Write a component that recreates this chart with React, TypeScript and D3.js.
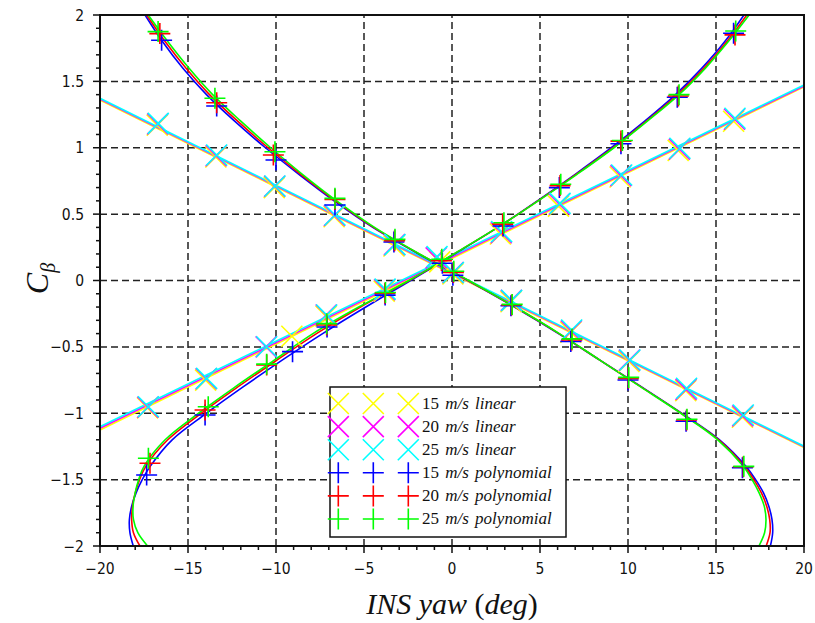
import React from 'react';
import * as d3 from 'd3';

// axes
const xMajorTicks = [-20, -15, -10, -5, 0, 5, 10, 15, 20];
const yMajorTicks = [-2, -1.5, -1, -0.5, 0, 0.5, 1, 1.5, 2];

const seriesNames = [
  '15 m/s linear',
  '20 m/s linear',
  '25 m/s linear',
  '15 m/s polynomial',
  '20 m/s polynomial',
  '25 m/s polynomial',
];
const seriesColors = ['#ffff00', '#ff00ff', '#00ffff', '#0000ff', '#ff0000', '#00ff00'];
const seriesMarkers = ['x', 'x', 'x', '+', '+', '+'];

// linear fits, [x, y] end points
const yellowLine = [[[-20, 1.358], [20, -1.258]], [[-20, -1.126], [20, 1.458]]];
const magentaLine = [[[-20, 1.366], [20, -1.253]], [[-20, -1.113], [20, 1.465]]];
const cyanLine = [[[-20, 1.373], [20, -1.248]], [[-20, -1.101], [20, 1.472]]];

// polynomial fits, [x, y] along each branch
const blueDec = [[18.09, -2], [18.22, -1.9], [18.18, -1.8], [18.0, -1.7], [17.7, -1.6], [17.25, -1.5], [16.7, -1.4], [15.2, -1.2], [13.05, -1.0], [10.75, -0.8], [8.4, -0.6], [6.05, -0.4], [3.55, -0.2], [0.9, 0], [-1.9, 0.2], [-4.5, 0.4], [-6.7, 0.6], [-8.7, 0.8], [-10.6, 1.0], [-12.35, 1.2], [-13.95, 1.4], [-15.3, 1.6], [-16.45, 1.8], [-17.44, 2]];
const redDec = [[17.85, -2], [18.07, -1.9], [18.05, -1.8], [17.88, -1.7], [17.58, -1.6], [17.15, -1.5], [16.62, -1.4], [15.15, -1.2], [13.02, -1.0], [10.72, -0.8], [8.4, -0.6], [6.08, -0.4], [3.58, -0.2], [0.92, 0], [-1.87, 0.2], [-4.45, 0.4], [-6.62, 0.6], [-8.6, 0.8], [-10.45, 1.0], [-12.18, 1.2], [-13.78, 1.4], [-15.12, 1.6], [-16.3, 1.8], [-17.35, 2]];
const greenDec = [[17.44, -2], [17.76, -1.9], [17.84, -1.8], [17.74, -1.7], [17.45, -1.6], [17.05, -1.5], [16.55, -1.4], [15.1, -1.2], [13.0, -1.0], [10.7, -0.8], [8.4, -0.6], [6.1, -0.4], [3.6, -0.2], [0.95, 0], [-1.85, 0.2], [-4.4, 0.4], [-6.55, 0.6], [-8.5, 0.8], [-10.3, 1.0], [-12.0, 1.2], [-13.6, 1.4], [-14.95, 1.6], [-16.15, 1.8], [-17.26, 2]];
const blueInc = [[-18.11, -2], [-18.3, -1.9], [-18.33, -1.8], [-18.2, -1.7], [-17.95, -1.6], [-17.6, -1.5], [-17.15, -1.4], [-15.9, -1.2], [-13.95, -1.0], [-11.85, -0.8], [-9.65, -0.6], [-7.35, -0.4], [-4.9, -0.2], [-2.35, 0], [0.15, 0.2], [2.6, 0.4], [4.85, 0.6], [7.0, 0.8], [9.05, 1.0], [10.95, 1.2], [12.7, 1.4], [14.2, 1.6], [15.5, 1.8], [16.59, 2]];
const redInc = [[-17.73, -2], [-18.1, -1.9], [-18.2, -1.8], [-18.15, -1.7], [-18.0, -1.6], [-17.75, -1.5], [-17.4, -1.4], [-16.15, -1.2], [-14.25, -1.0], [-12.15, -0.8], [-9.95, -0.6], [-7.7, -0.4], [-5.2, -0.2], [-2.42, 0], [0.12, 0.2], [2.6, 0.4], [4.88, 0.6], [7.05, 0.8], [9.15, 1.0], [11.05, 1.2], [12.82, 1.4], [14.32, 1.6], [15.62, 1.8], [16.75, 2]];
const greenInc = [[-17.3, -2], [-17.85, -1.9], [-18.1, -1.8], [-18.12, -1.7], [-18.0, -1.6], [-17.8, -1.5], [-17.5, -1.4], [-16.3, -1.2], [-14.4, -1.0], [-12.3, -0.8], [-10.1, -0.6], [-7.9, -0.4], [-5.3, -0.2], [-2.45, 0], [0.1, 0.2], [2.6, 0.4], [4.9, 0.6], [7.1, 0.8], [9.2, 1.0], [11.1, 1.2], [12.9, 1.4], [14.4, 1.6], [15.7, 1.8], [16.88, 2]];

// measured points, [x, y]
const yellowPts = [[-16.75, 1.17], [-13.42, 0.93], [-10.1, 0.7], [-6.7, 0.48], [-3.3, 0.26], [0.05, 0.05], [3.35, -0.16], [6.75, -0.39], [10.05, -0.61], [13.28, -0.83], [16.5, -1.03],
  [-17.3, -0.96], [-14.0, -0.75], [-9.1, -0.42], [-7.15, -0.27], [-3.85, -0.08], [-0.7, 0.14], [2.75, 0.35], [6.05, 0.56], [9.55, 0.78], [12.85, 0.98], [16.0, 1.2]];
const magentaPts = [[-16.72, 1.18], [-13.4, 0.94], [-10.08, 0.71], [-6.68, 0.49], [-3.27, 0.27], [0.06, 0.06], [3.37, -0.15], [6.78, -0.38], [10.08, -0.6], [13.3, -0.82], [16.52, -1.02],
  [-17.28, -0.955], [-13.97, -0.74], [-10.56, -0.5], [-7.15, -0.26], [-3.83, -0.07], [-0.9, 0.17], [2.8, 0.36], [6.1, 0.575], [9.6, 0.79], [12.92, 0.99], [16.05, 1.215]];
const cyanPts = [[-16.69, 1.184], [-13.37, 0.945], [-10.06, 0.712], [-6.65, 0.493], [-3.24, 0.27], [0.08, 0.06], [3.39, -0.15], [6.8, -0.373], [10.11, -0.599], [13.33, -0.812], [16.55, -1.013],
  [-17.25, -0.951], [-13.94, -0.737], [-10.53, -0.499], [-7.12, -0.26], [-3.8, -0.065], [-0.85, 0.18], [2.82, 0.368], [6.14, 0.581], [9.64, 0.795], [12.95, 0.996], [16.08, 1.222]];
const bluePts = [[-16.5, 1.81], [-13.37, 1.314], [-10.0, 0.908], [-6.65, 0.569], [-3.3, 0.29], [0.05, 0.04], [3.35, -0.19], [6.75, -0.46], [10.0, -0.75], [13.3, -1.06], [16.5, -1.41],
  [-17.35, -1.465], [-14.03, -1.013], [-9.06, -0.536], [-7.1, -0.35], [-3.8, -0.11], [-0.55, 0.13], [2.9, 0.41], [6.1, 0.7], [9.6, 1.03], [12.8, 1.38], [16.0, 1.862]];
const redPts = [[-16.6, 1.86], [-13.37, 1.339], [-10.15, 0.945], [-6.65, 0.61], [-3.26, 0.3], [0.08, 0.06], [3.39, -0.185], [6.8, -0.448], [10.02, -0.737], [13.33, -1.051], [16.55, -1.403],
  [-17.16, -1.377], [-14.03, -0.976], [-10.53, -0.637], [-7.12, -0.335], [-3.81, -0.096], [-0.6, 0.15], [2.88, 0.425], [6.14, 0.715], [9.6, 1.05], [12.86, 1.39], [16.08, 1.85]];
const greenPts = [[-16.7, 1.875], [-13.47, 1.373], [-10.06, 0.97], [-6.65, 0.619], [-3.24, 0.31], [0.1, 0.07], [3.42, -0.18], [6.82, -0.44], [10.04, -0.73], [13.35, -1.045], [16.58, -1.4],
  [-17.25, -1.339], [-13.85, -0.951], [-10.53, -0.63], [-7.12, -0.325], [-3.78, -0.09], [-0.58, 0.16], [2.95, 0.435], [6.18, 0.725], [9.68, 1.055], [12.9, 1.4], [16.12, 1.88]];

const seriesCurves = [yellowLine, magentaLine, cyanLine, [blueDec, blueInc], [redDec, redInc], [greenDec, greenInc]];
const seriesPoints = [yellowPts, magentaPts, cyanPts, bluePts, redPts, greenPts];

const W = 815;
const H = 623;
const margin = { left: 100, right: 11, top: 15, bottom: 77 };

const fmt = (v: number) => String(v).replace('-', '\u2212');

function Marker({ x, y, type, color, r = 10.5 }: any) {
  if (type === '+') {
    return (
      <path d={`M${x - r},${y}H${x + r}M${x},${y - r}V${y + r}`} stroke={color} strokeWidth={1.6} fill="none" />
    );
  }
  return (
    <path d={`M${x - r},${y - r}L${x + r},${y + r}M${x - r},${y + r}L${x + r},${y - r}`} stroke={color} strokeWidth={1.6} fill="none" />
  );
}

export default function App() {
  const x = d3.scaleLinear().domain([-20, 20]).range([margin.left, W - margin.right]);
  const y = d3.scaleLinear().domain([-2, 2]).range([H - margin.bottom, margin.top]);
  const [x0, x1] = x.range();
  const [y0, y1] = y.range();

  const line = d3.line<number[]>().x((d) => x(d[0])).y((d) => y(d[1])).curve(d3.curveCatmullRom.alpha(0.5));
  const xMinor = d3.range(-20, 20.01, 1).filter((v) => Math.round(v) % 5 !== 0);
  const yMinor = d3.range(-20, 21, 1).filter((v) => v % 5 !== 0).map((v) => v / 10);

  const tickFont = { fontFamily: '"DejaVu Sans Condensed", "DejaVu Sans", sans-serif', fontStretch: 'condensed' as const, fontSize: 15.5, fill: '#111' };
  const serif = '"Liberation Serif", "DejaVu Serif", serif';

  const legX = 330;
  const legY = 387;
  const rowH = 23.1;

  return (
    <svg width={W} height={H} style={{ position: 'absolute', left: 0, top: 0, background: '#fff' }}>
      <defs>
        <clipPath id="plot">
          <rect x={x0} y={y1} width={x1 - x0} height={y0 - y1} />
        </clipPath>
      </defs>

      {/* grid */}
      <g stroke="#222" strokeWidth={1.5} strokeDasharray="7,4">
        {xMajorTicks.slice(1, -1).map((t) => (
          <line key={'gx' + t} x1={x(t)} x2={x(t)} y1={y0} y2={y1} />
        ))}
        {yMajorTicks.slice(1, -1).map((t) => (
          <line key={'gy' + t} x1={x0} x2={x1} y1={y(t)} y2={y(t)} />
        ))}
      </g>

      {/* curves and points */}
      <g clipPath="url(#plot)">
        {seriesCurves.map((branches, i) =>
          branches.map((b, j) => (
            <path key={`c${i}-${j}`} d={line(b as number[][]) || ''} fill="none" stroke={seriesColors[i]} strokeWidth={1.6} />
          ))
        )}
      </g>
      <g>
        {seriesPoints.map((pts, i) =>
          pts.map((p, j) => (
            <Marker key={`m${i}-${j}`} x={x(p[0])} y={y(p[1])} type={seriesMarkers[i]} color={seriesColors[i]} />
          ))
        )}
      </g>

      {/* axes frame */}
      <rect x={x0} y={y1} width={x1 - x0} height={y0 - y1} fill="none" stroke="#111" strokeWidth={2} />
      <g stroke="#111" strokeWidth={1.5}>
        {xMajorTicks.map((t) => (
          <line key={'tx' + t} x1={x(t)} x2={x(t)} y1={y0} y2={y0 + 7} />
        ))}
        {xMinor.map((t) => (
          <line key={'mx' + t} x1={x(t)} x2={x(t)} y1={y0} y2={y0 + 4} />
        ))}
        {yMajorTicks.map((t) => (
          <line key={'ty' + t} x1={x0 - 7} x2={x0} y1={y(t)} y2={y(t)} />
        ))}
        {yMinor.map((t) => (
          <line key={'my' + t} x1={x0 - 4} x2={x0} y1={y(t)} y2={y(t)} />
        ))}
      </g>
      {xMajorTicks.map((t) => (
        <text key={'lx' + t} x={x(t)} y={y0 + 28} textAnchor="middle" {...tickFont}>
          {fmt(t)}
        </text>
      ))}
      {yMajorTicks.map((t) => (
        <text key={'ly' + t} x={x0 - 16} y={y(t) + 5.5} textAnchor="end" {...tickFont}>
          {fmt(t)}
        </text>
      ))}

      {/* axis titles */}
      <text x={(x0 + x1) / 2} y={614} textAnchor="middle" fontFamily={serif} fontSize={30} fontStyle="italic" fill="#111">
        INS yaw <tspan fontStyle="normal">(</tspan>deg<tspan fontStyle="normal">)</tspan>
      </text>
      <text transform={`translate(48, ${(y0 + y1) / 2 - 2}) rotate(-90)`} textAnchor="middle" fontFamily={serif} fill="#111">
        <tspan fontSize={32} fontStyle="italic">C</tspan>
        <tspan fontSize={20} dy={7} fontStyle="italic">β</tspan>
      </text>

      {/* legend */}
      <rect x={legX} y={legY} width={236} height={150} fill="#fff" stroke="#111" strokeWidth={1.5} />
      {seriesNames.map((name, i) => {
        const cy = legY + 16.5 + i * rowH;
        const [num, ...rest] = name.split(' ');
        return (
          <g key={'lg' + i}>
            {[338.3, 373.3, 408.3].map((mx) => (
              <Marker key={mx} x={mx} y={cy} type={seriesMarkers[i]} color={seriesColors[i]} />
            ))}
            <text x={422} y={cy + 5} fontFamily={serif} fontSize={17} fill="#111" style={{ wordSpacing: '2px' }}>
              {num + ' '}
              <tspan fontStyle="italic">{rest.join(' ')}</tspan>
            </text>
          </g>
        );
      })}
    </svg>
  );
}
